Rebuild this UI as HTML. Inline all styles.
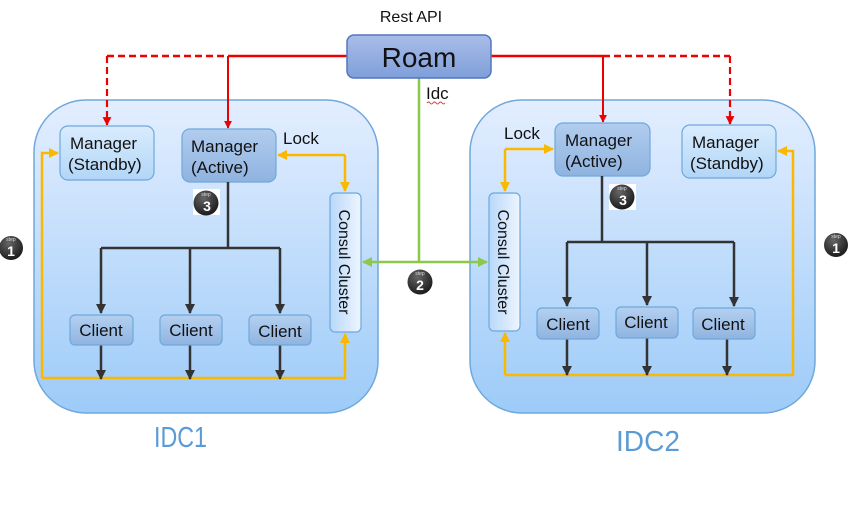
<!DOCTYPE html>
<html><head><meta charset="utf-8"><style>
html,body{margin:0;padding:0;background:#fff;}
svg{display:block;font-family:"Liberation Sans",sans-serif;}
</style></head><body>
<svg width="853" height="505" viewBox="0 0 853 505" xmlns="http://www.w3.org/2000/svg">
<defs>
<linearGradient id="cont" x1="0" y1="0" x2="0" y2="1"><stop offset="0" stop-color="#e3eeff"/><stop offset="1" stop-color="#9dcbf8"/></linearGradient>
<linearGradient id="roam" x1="0" y1="0" x2="0" y2="1"><stop offset="0" stop-color="#a9bde8"/><stop offset="1" stop-color="#7f9fda"/></linearGradient>
<linearGradient id="act" x1="0" y1="0" x2="0" y2="1"><stop offset="0" stop-color="#b1cdee"/><stop offset="1" stop-color="#8fb3e0"/></linearGradient>
<linearGradient id="stb" x1="0" y1="0" x2="0" y2="1"><stop offset="0" stop-color="#d9ecfd"/><stop offset="1" stop-color="#b2d6f8"/></linearGradient>
<linearGradient id="cl" x1="0" y1="0" x2="0" y2="1"><stop offset="0" stop-color="#b4d0f0"/><stop offset="1" stop-color="#90b4e0"/></linearGradient>
<linearGradient id="cons" x1="0" y1="0" x2="1" y2="0"><stop offset="0" stop-color="#b8d8fa"/><stop offset="1" stop-color="#eef5ff"/></linearGradient>
<radialGradient id="badge" cx="0.4" cy="0.3" r="0.8"><stop offset="0" stop-color="#666"/><stop offset="1" stop-color="#111"/></radialGradient>
<marker id="ar" viewBox="0 0 10 10" refX="9" refY="5" markerWidth="4" markerHeight="4" orient="auto"><path d="M0,0L10,5L0,10z" fill="#e00"/></marker>
<marker id="ab" viewBox="0 0 10 10" refX="9" refY="5" markerWidth="4" markerHeight="4" orient="auto"><path d="M0,0L10,5L0,10z" fill="#333"/></marker>
<marker id="ay" viewBox="0 0 10 10" refX="9" refY="5" markerWidth="4" markerHeight="4" orient="auto"><path d="M0,0L10,5L0,10z" fill="#fbb800"/></marker>
<marker id="ag" viewBox="0 0 10 10" refX="9" refY="5" markerWidth="4" markerHeight="4" orient="auto-start-reverse"><path d="M0,0L10,5L0,10z" fill="#8cc84b"/></marker>
</defs>

<rect x="34" y="100" width="344" height="313" rx="52" fill="url(#cont)" stroke="#6fa8dc" stroke-width="1.5"/>
<rect x="470" y="100" width="345" height="313" rx="52" fill="url(#cont)" stroke="#6fa8dc" stroke-width="1.5"/>

<line x1="228" y1="56" x2="347" y2="56" stroke="#e00" stroke-width="2.5"/>
<line x1="107" y1="56" x2="228" y2="56" stroke="#e00" stroke-width="2.5" stroke-dasharray="7,4"/>
<line x1="107" y1="56" x2="107" y2="125" stroke="#e00" stroke-width="2.2" stroke-dasharray="7,4" marker-end="url(#ar)"/>
<line x1="228" y1="56" x2="228" y2="128" stroke="#e00" stroke-width="2" marker-end="url(#ar)"/>
<line x1="491" y1="56" x2="603" y2="56" stroke="#e00" stroke-width="2.5"/>
<line x1="603" y1="56" x2="730" y2="56" stroke="#e00" stroke-width="2.5" stroke-dasharray="7,4"/>
<line x1="603" y1="56" x2="603" y2="122" stroke="#e00" stroke-width="2" marker-end="url(#ar)"/>
<line x1="730" y1="56" x2="730" y2="124" stroke="#e00" stroke-width="2.2" stroke-dasharray="7,4" marker-end="url(#ar)"/>

<line x1="419" y1="77" x2="419" y2="262" stroke="#8cc84b" stroke-width="2.5"/>
<line x1="363" y1="262" x2="487" y2="262" stroke="#8cc84b" stroke-width="2.5" marker-start="url(#ag)" marker-end="url(#ag)"/>

<text x="411" y="22" font-size="16" text-anchor="middle" fill="#111">Rest API</text>
<rect x="347" y="35" width="144" height="43" rx="7" fill="url(#roam)" stroke="#5277c2" stroke-width="1.5"/>
<text x="419" y="67" font-size="28" text-anchor="middle" fill="#111">Roam</text>
<text x="426" y="99" font-size="17" fill="#111">Idc</text>
<path d="M427,103 q1.5,-2 3,0 t3,0 t3,0 t3,0 t3,0 t3,0" fill="none" stroke="#e33" stroke-width="1"/>

<path d="M42,378 L42,153 L58,153" fill="none" stroke="#fbb800" stroke-width="2.5" marker-end="url(#ay)"/>
<path d="M42,378 L345,378 L345,334" fill="none" stroke="#fbb800" stroke-width="2.5" marker-end="url(#ay)"/>
<path d="M345,155 L278,155" fill="none" stroke="#fbb800" stroke-width="2.5" marker-end="url(#ay)"/>
<path d="M345,155 L345,191" fill="none" stroke="#fbb800" stroke-width="2.5" marker-end="url(#ay)"/>

<rect x="60" y="126" width="94" height="54" rx="8" fill="url(#stb)" stroke="#6fa8dc" stroke-width="1.2"/>
<text x="70" y="149" font-size="17" fill="#111">Manager</text>
<text x="68" y="170" font-size="17" fill="#111">(Standby)</text>
<rect x="182" y="129" width="94" height="53" rx="8" fill="url(#act)" stroke="#6fa8dc" stroke-width="1.2"/>
<text x="191" y="152" font-size="17" fill="#111">Manager</text>
<text x="191" y="173" font-size="17" fill="#111">(Active)</text>
<text x="283" y="144" font-size="17" fill="#111">Lock</text>

<rect x="330" y="193" width="31" height="139" rx="5" fill="url(#cons)" stroke="#6fa8dc" stroke-width="1.2"/>
<text transform="translate(339,262) rotate(90)" font-size="16" text-anchor="middle" fill="#111">Consul Cluster</text>

<path d="M228,182 L228,248 M101,248 L280,248" stroke="#333" stroke-width="2.5" fill="none"/>
<line x1="101" y1="248" x2="101" y2="313" stroke="#333" stroke-width="2.5" marker-end="url(#ab)"/>
<line x1="190" y1="248" x2="190" y2="313" stroke="#333" stroke-width="2.5" marker-end="url(#ab)"/>
<line x1="280" y1="248" x2="280" y2="313" stroke="#333" stroke-width="2.5" marker-end="url(#ab)"/>
<line x1="101" y1="345" x2="101" y2="379" stroke="#333" stroke-width="2.5" marker-end="url(#ab)"/>
<line x1="190" y1="345" x2="190" y2="379" stroke="#333" stroke-width="2.5" marker-end="url(#ab)"/>
<line x1="280" y1="345" x2="280" y2="379" stroke="#333" stroke-width="2.5" marker-end="url(#ab)"/>
<rect x="70" y="315" width="63" height="30" rx="5" fill="url(#cl)" stroke="#6fa8dc" stroke-width="1.2"/>
<text x="101" y="336" font-size="17" text-anchor="middle" fill="#111">Client</text>
<rect x="160" y="315" width="62" height="30" rx="5" fill="url(#cl)" stroke="#6fa8dc" stroke-width="1.2"/>
<text x="191" y="336" font-size="17" text-anchor="middle" fill="#111">Client</text>
<rect x="249" y="315" width="62" height="30" rx="5" fill="url(#cl)" stroke="#6fa8dc" stroke-width="1.2"/>
<text x="280" y="337" font-size="17" text-anchor="middle" fill="#111">Client</text>

<path d="M505,149 L553,149" fill="none" stroke="#fbb800" stroke-width="2.5" marker-end="url(#ay)"/>
<path d="M505,149 L505,191" fill="none" stroke="#fbb800" stroke-width="2.5" marker-end="url(#ay)"/>
<path d="M505,375 L505,333" fill="none" stroke="#fbb800" stroke-width="2.5" marker-end="url(#ay)"/>
<path d="M505,375 L793,375 L793,151 L778,151" fill="none" stroke="#fbb800" stroke-width="2.5" marker-end="url(#ay)"/>

<rect x="555" y="123" width="95" height="53" rx="8" fill="url(#act)" stroke="#6fa8dc" stroke-width="1.2"/>
<text x="565" y="146" font-size="17" fill="#111">Manager</text>
<text x="565" y="167" font-size="17" fill="#111">(Active)</text>
<rect x="682" y="125" width="94" height="53" rx="8" fill="url(#stb)" stroke="#6fa8dc" stroke-width="1.2"/>
<text x="692" y="148" font-size="17" fill="#111">Manager</text>
<text x="690" y="169" font-size="17" fill="#111">(Standby)</text>
<text x="504" y="139" font-size="17" fill="#111">Lock</text>

<rect x="489" y="193" width="31" height="138" rx="5" fill="url(#cons)" stroke="#6fa8dc" stroke-width="1.2"/>
<text transform="translate(498,262) rotate(90)" font-size="16" text-anchor="middle" fill="#111">Consul Cluster</text>

<path d="M602,176 L602,242 M567,242 L734,242" stroke="#333" stroke-width="2.5" fill="none"/>
<line x1="567" y1="242" x2="567" y2="306" stroke="#333" stroke-width="2.5" marker-end="url(#ab)"/>
<line x1="647" y1="242" x2="647" y2="305" stroke="#333" stroke-width="2.5" marker-end="url(#ab)"/>
<line x1="734" y1="242" x2="734" y2="306" stroke="#333" stroke-width="2.5" marker-end="url(#ab)"/>
<line x1="567" y1="339" x2="567" y2="375" stroke="#333" stroke-width="2.5" marker-end="url(#ab)"/>
<line x1="647" y1="338" x2="647" y2="375" stroke="#333" stroke-width="2.5" marker-end="url(#ab)"/>
<line x1="727" y1="339" x2="727" y2="375" stroke="#333" stroke-width="2.5" marker-end="url(#ab)"/>
<rect x="537" y="308" width="62" height="31" rx="5" fill="url(#cl)" stroke="#6fa8dc" stroke-width="1.2"/>
<text x="568" y="330" font-size="17" text-anchor="middle" fill="#111">Client</text>
<rect x="616" y="307" width="62" height="31" rx="5" fill="url(#cl)" stroke="#6fa8dc" stroke-width="1.2"/>
<text x="646" y="328" font-size="17" text-anchor="middle" fill="#111">Client</text>
<rect x="693" y="308" width="62" height="31" rx="5" fill="url(#cl)" stroke="#6fa8dc" stroke-width="1.2"/>
<text x="723" y="330" font-size="17" text-anchor="middle" fill="#111">Client</text>

<rect x="193" y="189" width="27" height="26" fill="#fff"/>
<circle cx="206" cy="203" r="12.5" fill="url(#badge)"/>
<text x="206" y="196" font-size="5" text-anchor="middle" fill="#ddd">step</text>
<text x="207" y="211" font-size="14" font-weight="bold" text-anchor="middle" fill="#fff">3</text>
<rect x="609" y="184" width="27" height="26" fill="#fff"/>
<circle cx="622" cy="197" r="12.5" fill="url(#badge)"/>
<text x="622" y="190" font-size="5" text-anchor="middle" fill="#ddd">step</text>
<text x="623" y="205" font-size="14" font-weight="bold" text-anchor="middle" fill="#fff">3</text>
<circle cx="11" cy="248" r="12" fill="url(#badge)"/>
<text x="11" y="241" font-size="5" text-anchor="middle" fill="#ddd">step</text>
<text x="11" y="256" font-size="14" font-weight="bold" text-anchor="middle" fill="#fff">1</text>
<circle cx="836" cy="245" r="12" fill="url(#badge)"/>
<text x="836" y="238" font-size="5" text-anchor="middle" fill="#ddd">step</text>
<text x="836" y="253" font-size="14" font-weight="bold" text-anchor="middle" fill="#fff">1</text>
<circle cx="420" cy="282" r="12.5" fill="url(#badge)"/>
<text x="420" y="275" font-size="5" text-anchor="middle" fill="#ddd">step</text>
<text x="420" y="290" font-size="14" font-weight="bold" text-anchor="middle" fill="#fff">2</text>

<text x="154" y="447" font-size="29" textLength="53" lengthAdjust="spacingAndGlyphs" fill="#5b9bd5">IDC1</text>
<text x="616" y="451" font-size="29" textLength="64" lengthAdjust="spacingAndGlyphs" fill="#5b9bd5">IDC2</text>
</svg>
</body></html>
